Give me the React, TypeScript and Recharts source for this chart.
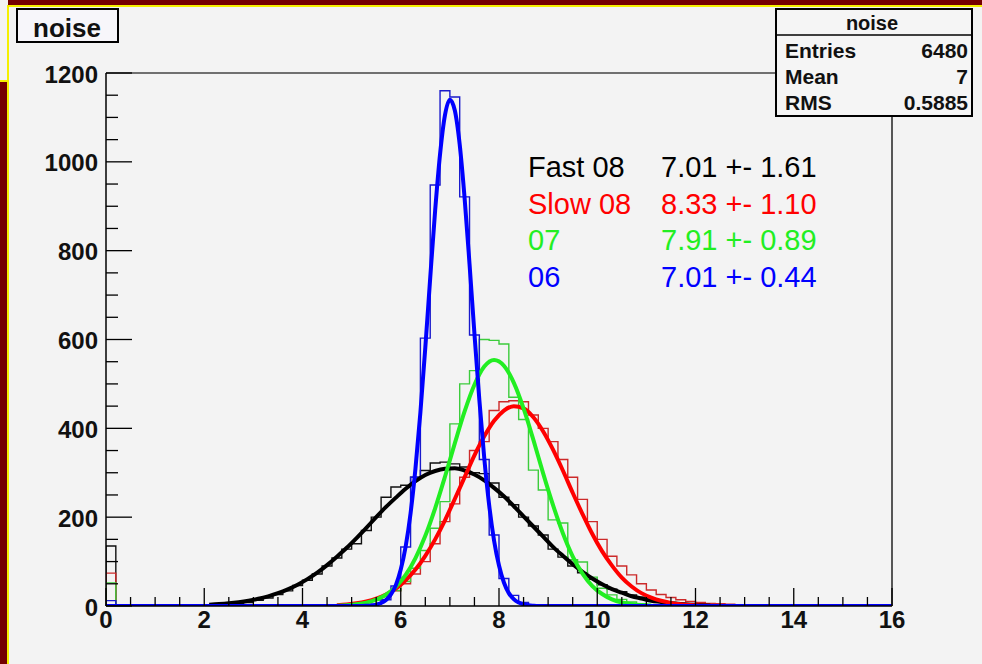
import { ComposedChart, Line, XAxis, YAxis } from "recharts";

// ROOT-style "noise" histograms with gaussian fits, bins of 0.2 from 0 to 16
const BIN_WIDTH = 0.2;
const X_TICKS = [0, 0.5, 1, 1.5, 2, 2.5, 3, 3.5, 4, 4.5, 5, 5.5, 6, 6.5, 7, 7.5, 8, 8.5, 9, 9.5, 10, 10.5, 11, 11.5, 12, 12.5, 13, 13.5, 14, 14.5, 15, 15.5, 16];
const Y_TICKS = [0, 50, 100, 150, 200, 250, 300, 350, 400, 450, 500, 550, 600, 650, 700, 750, 800, 850, 900, 950, 1000, 1050, 1100, 1150, 1200];

const fastHist = [
  135, 0, 0, 0, 0, 0, 0, 0, 0, 1,
  2, 3, 4, 6, 8, 13, 18, 26, 34, 46,
  58, 72, 90, 108, 128, 140, 170, 200, 245, 268,
  272, 290, 305, 322, 324, 320, 313, 300, 298, 277,
  245, 228, 200, 180, 160, 128, 110, 90, 75, 60,
  48, 38, 32, 25, 20, 15, 11, 8, 6, 5,
  4, 3, 3, 2, 2, 1, 1, 1, 1, 1,
  1, 0, 1, 1, 0, 1, 0, 1, 0, 0,
];
const slowHist = [
  74, 0, 0, 0, 0, 0, 0, 0, 0, 0,
  0, 0, 0, 0, 0, 0, 1, 1, 1, 1,
  1, 2, 2, 3, 4, 5, 8, 13, 22, 34,
  50, 72, 100, 140, 190, 230, 290, 350, 370, 440,
  460, 462, 460, 430, 400, 370, 330, 290, 240, 190,
  150, 112, 90, 70, 50, 36, 26, 19, 14, 10,
  8, 6, 5, 4, 3, 3, 2, 2, 2, 2,
  2, 1, 2, 1, 1, 1, 1, 1, 0, 0,
];
const hist07 = [
  52, 0, 0, 0, 0, 0, 0, 0, 0, 0,
  0, 0, 0, 0, 0, 0, 0, 0, 0, 1,
  1, 1, 1, 2, 2, 4, 8, 13, 22, 35,
  55, 85, 125, 175, 235, 410, 500, 530, 600, 598,
  590, 470, 420, 306, 261, 194, 187, 104, 99, 65,
  40, 25, 15, 9, 5, 3, 2, 1, 1, 0,
  1, 0, 0, 0, 1, 0, 0, 0, 0, 0,
  0, 0, 0, 0, 0, 0, 0, 0, 0, 0,
];
const hist06 = [
  12, 0, 0, 0, 0, 0, 0, 0, 0, 0,
  0, 0, 0, 0, 0, 0, 0, 0, 0, 0,
  0, 0, 0, 0, 0, 0, 1, 4, 14, 45,
  133, 290, 603, 948, 1160, 1146, 921, 610, 330, 160,
  62, 24, 8, 3, 1, 0, 0, 0, 0, 0,
  0, 0, 0, 0, 0, 0, 0, 0, 0, 0,
  0, 0, 0, 0, 0, 0, 0, 0, 0, 0,
  0, 0, 0, 0, 0, 0, 0, 0, 0, 0,
];

const fastFitStart = 2.1;
const fastFit = [3.0, 4.3, 6.1, 8.6, 11.9, 16.2, 21.8, 28.8, 37.5, 48, 60.5, 75, 92, 111, 131, 153, 176, 200, 223, 244, 264, 281, 295, 304, 309, 310, 305, 296, 283, 266, 247, 225, 202, 179, 156, 133, 113, 94, 77, 62, 49, 38, 30, 22, 17, 12, 9, 6, 4.5, 3.1, 2.1, 1.4];
const slowFitStart = 4.7;
const slowFit = [1.8, 3.5, 6.0, 10.1, 16.4, 25.8, 39, 58, 82, 113, 150, 193, 241, 290, 339, 382, 417, 440, 450, 445, 425, 393, 352, 305, 255, 207, 162, 123, 91, 64, 44, 29, 19, 11.8, 7.1, 4.1, 2.3, 1.3, 0.7];
const fit07Start = 4.7;
const fit07 = [0.8, 1.8, 3.8, 7.5, 14.2, 25.4, 43, 70, 108, 158, 220, 291, 366, 438, 498, 539, 554, 541, 503, 445, 374, 298, 227, 164, 112, 73, 45, 27, 15, 8, 4.1, 2.0, 0.9];
const fit06Start = 5.2;
const fit06 = [0.2, 0.6, 1.3, 3.2, 6.7, 13.5, 26, 47, 82, 134, 209, 310, 436, 582, 739, 890, 1017, 1105, 1140, 1116, 1039, 918, 770, 613, 464, 333, 227, 147, 91, 53, 29, 15.5, 7.7, 3.7, 1.6, 0.7, 0.2];

const legendNames = ["Fast 08", "Slow 08", "07", "06"];
const legendValues = ["7.01 +- 1.61", "8.33 +- 1.10", "7.91 +- 0.89", "7.01 +- 0.44"];
const legendColors = ["#000000", "#ff0000", "#22ee22", "#0000ff"];

const statsLabels = ["Entries", "Mean", "RMS"];
const statsValues = ["6480", "7", "0.5885"];

const FONT = "'Liberation Sans', Arial, Helvetica, sans-serif";
const BG = "#f3f3f3";

function histData(vals: number[]) {
  const pts = [{ x: 0, y: 0 }];
  vals.forEach((v, i) => pts.push({ x: +(i * BIN_WIDTH).toFixed(2), y: v }));
  pts.push({ x: 16, y: vals[vals.length - 1] });
  return pts;
}

function fitData(start: number, step: number, vals: number[], full = false) {
  const pts = vals.map((v, i) => ({ x: +(start + i * step).toFixed(2), y: v }));
  return full ? [{ x: 0, y: 0 }, ...pts, { x: 16, y: 0 }] : pts;
}

const XTick = (props: any) => {
  const { x, y, payload } = props;
  const v = payload.value;
  const major = v % 2 === 0;
  return (
    <g>
      <line x1={x} x2={x} y1={y} y2={y - (major ? 18 : 9)} stroke="#000" strokeWidth={1.3} />
      {major && (
        <text x={x} y={y + 22} textAnchor="middle" fontSize={24} fontWeight="bold" fill="#111" fontFamily={FONT}>
          {v}
        </text>
      )}
    </g>
  );
};

const YTick = (props: any) => {
  const { x, y, payload } = props;
  const v = payload.value;
  const major = v % 200 === 0;
  return (
    <g>
      <line x1={x} x2={x + (major ? 26 : 12)} y1={y} y2={y} stroke="#000" strokeWidth={1.3} />
      {major && (
        <text x={x - 8} y={y + 9.5} textAnchor="end" fontSize={24} fontWeight="bold" fill="#111" fontFamily={FONT}>
          {v}
        </text>
      )}
    </g>
  );
};

export default function App() {
  const hists = [
    { data: histData(fastHist), color: "#111111" },
    { data: histData(slowHist), color: "#cc2a2a" },
    { data: histData(hist07), color: "#3ccc3c" },
    { data: histData(hist06), color: "#1a1acc" },
  ];
  const fits = [
    { data: fitData(fastFitStart, 0.2, fastFit), color: "#000000" },
    { data: fitData(slowFitStart, 0.2, slowFit), color: "#ff0000" },
    { data: fitData(fit07Start, 0.2, fit07), color: "#22ee22" },
    { data: fitData(fit06Start, 0.1, fit06, true), color: "#0000ff" },
  ];

  return (
    <div style={{ position: "absolute", left: 0, top: 0, width: 982, height: 664, background: BG, overflow: "hidden" }}>
      {/* window border */}
      <div style={{ position: "absolute", left: 8, top: 0, width: 974, height: 5, background: "#740000" }} />
      <div style={{ position: "absolute", left: 8, top: 5, width: 974, height: 2, background: "#f4f000" }} />
      <div style={{ position: "absolute", left: 0, top: 82, width: 7, height: 582, background: "#740000" }} />
      <div style={{ position: "absolute", left: 7, top: 5, width: 2, height: 659, background: "#f4f000" }} />
      <div style={{ position: "absolute", left: 0, top: 80, width: 8, height: 2, background: "#f4f000" }} />

      <div style={{ position: "absolute", left: 0, top: 0 }}>
        <ComposedChart width={982} height={664} margin={{ top: 63, right: 80, bottom: 28, left: 46 }}>
          <XAxis
            dataKey="x"
            type="number"
            domain={[0, 16]}
            ticks={X_TICKS}
            interval={0}
            height={30}
            tickSize={0}
            tickMargin={0}
            tick={<XTick />}
            axisLine={{ stroke: "#000", strokeWidth: 1.5 }}
            allowDataOverflow
          />
          <XAxis xAxisId="top" orientation="top" type="number" domain={[0, 16]} height={10} tick={false} tickLine={false}
            axisLine={{ stroke: "#444", strokeWidth: 1.5 }} />
          <YAxis
            type="number"
            domain={[0, 1200]}
            ticks={Y_TICKS}
            interval={0}
            width={60}
            tickSize={0}
            tickMargin={0}
            tick={<YTick />}
            axisLine={{ stroke: "#000", strokeWidth: 1.5 }}
            allowDataOverflow
          />
          <YAxis yAxisId="right" orientation="right" type="number" domain={[0, 1200]} width={10} tick={false} tickLine={false}
            axisLine={{ stroke: "#222", strokeWidth: 1.5 }} />
          {hists.map((h, i) => (
            <Line key={"h" + i} data={h.data} dataKey="y" type="stepAfter" stroke={h.color} strokeWidth={1.4}
              dot={false} activeDot={false} isAnimationActive={false} />
          ))}
          {fits.map((f, i) => (
            <Line key={"f" + i} data={f.data} dataKey="y" type="monotone" stroke={f.color} strokeWidth={4}
              dot={false} activeDot={false} isAnimationActive={false} />
          ))}
        </ComposedChart>
      </div>

      <svg width={982} height={664} style={{ position: "absolute", left: 0, top: 0, pointerEvents: "none" }} fontFamily={FONT}>
        {/* title box */}
        <rect x={17} y={9} width={101} height={33} fill="#f7f6fa" stroke="#000" strokeWidth={2} />
        <text x={33} y={37} fontSize={26} fontWeight="bold" fill="#111">noise</text>

        {/* stats box */}
        <rect x={776} y={9} width={196} height={107} fill="#f5f5f5" stroke="#000" strokeWidth={2} />
        <line x1={776} x2={972} y1={35} y2={35} stroke="#000" strokeWidth={1.5} />
        <text x={872} y={30} textAnchor="middle" fontSize={20} fontWeight="bold" fill="#111">noise</text>
        {statsLabels.map((l, i) => (
          <g key={l}>
            <text x={785} y={58 + i * 26} fontSize={21} fontWeight="bold" fill="#111">{l}</text>
            <text x={968} y={58 + i * 26} textAnchor="end" fontSize={21} fontWeight="bold" fill="#111">{statsValues[i]}</text>
          </g>
        ))}

        {/* fit results */}
        {legendNames.map((n, i) => (
          <g key={n}>
            <text x={528} y={177 + i * 36.7} fontSize={29} fill={legendColors[i]}>{n}</text>
            <text x={661} y={177 + i * 36.7} fontSize={29} fill={legendColors[i]}>{legendValues[i]}</text>
          </g>
        ))}
      </svg>
    </div>
  );
}
